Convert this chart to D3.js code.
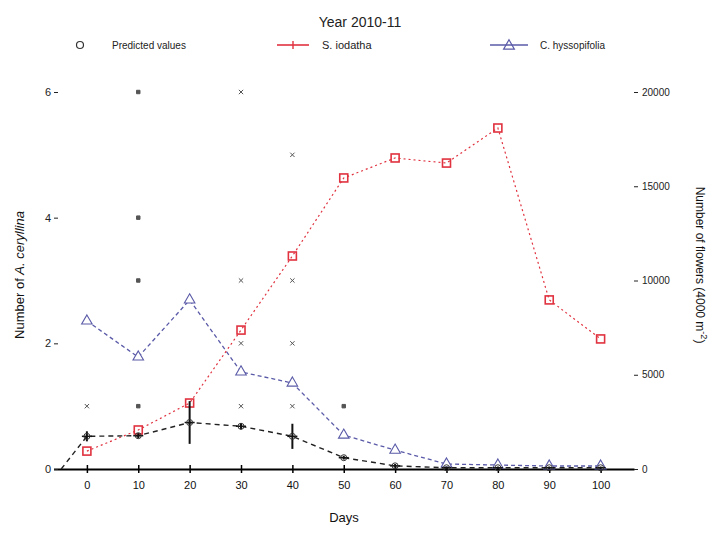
<!DOCTYPE html>
<html>
<head>
<meta charset="utf-8">
<script src="https://cdn.jsdelivr.net/npm/d3@7"></script>
<style>
  html, body { margin: 0; padding: 0; background: #fff; }
  svg { display: block; font-family: "Liberation Sans", Arial, sans-serif; }
</style>
</head>
<body>
<svg id="chart" width="719" height="533"></svg>
<script>
// Sampling days
const days = [0, 10, 20, 30, 40, 50, 60, 70, 80, 90, 100];

// Flowers per 4000 m^2 (right axis)
const iodathaFlowers = [950, 2070, 3500, 7370, 11300, 15440, 16500, 16230, 18090, 8970, 6900];
const hyssopifoliaFlowers = [7850, 5940, 8970, 5150, 4560, 1800, 1000, 265, 210, 160, 160];

// Predicted number of A. ceryllina (left axis), with the curve starting from zero
const predDays = [-5, 0, 10, 20, 30, 40, 50, 60, 70, 80, 90, 100];
const predMean = [0, 0.52, 0.53, 0.74, 0.68, 0.52, 0.18, 0.05, 0.02, 0.02, 0.02, 0.02];
const predErr  = [0, 0.08, 0.04, 0.34, 0.05, 0.2, 0.03, 0.03, 0.02, 0.02, 0.02, 0.02];

// Observed counts of A. ceryllina
const obsDays   = [0, 10, 10, 10, 10, 30, 30, 30, 30, 40, 40, 40, 40, 50];
const obsCounts = [1, 6, 4, 3, 1, 6, 3, 2, 1, 5, 3, 2, 1, 1];

// Axis ticks
const xTicks = [0, 10, 20, 30, 40, 50, 60, 70, 80, 90, 100];
const leftTicks = [0, 2, 4, 6];
const rightTicks = [0, 5000, 10000, 15000, 20000];

const svg = d3.select("#chart");
const red = "#e0323f";
const blue = "#5a5aa8";

const x = d3.scaleLinear().domain([-6.5, 106.5]).range([53.5, 634]);
const yL = d3.scaleLinear().domain([0, 6]).range([469, 92]);
const yR = d3.scaleLinear().domain([0, 20000]).range([469, 92]);

// Title
svg.append("text").attr("x", 360).attr("y", 27).attr("text-anchor", "middle")
  .attr("font-size", 14).attr("fill", "#222").text("Year 2010-11");

// Bottom axis
const xAxis = svg.append("g").attr("transform", "translate(0,469)")
  .call(d3.axisBottom(x).tickValues(xTicks).tickSize(4).tickSizeOuter(0));
xAxis.select(".domain").attr("stroke", "#000").attr("stroke-width", 2);
xAxis.selectAll(".tick line").attr("stroke", "#000").attr("stroke-width", 1.5).attr("y1", -4);
xAxis.selectAll(".tick text").attr("font-size", 11).attr("fill", "#111").attr("dy", "1.2em")
  .attr("font-family", "Liberation Sans, Arial, sans-serif");

// Left axis
const lAxis = svg.append("g").attr("transform", "translate(58,0)")
  .call(d3.axisLeft(yL).tickValues(leftTicks).tickFormat(d3.format("d")).tickSize(4).tickPadding(3));
lAxis.select(".domain").remove();
lAxis.selectAll(".tick line").attr("stroke", "#222");
lAxis.selectAll(".tick text").attr("font-size", 11).attr("fill", "#222")
  .attr("font-family", "Liberation Sans, Arial, sans-serif");

// Right axis
const rAxis = svg.append("g").attr("transform", "translate(634,0)")
  .call(d3.axisRight(yR).tickValues(rightTicks).tickFormat(d3.format("d")).tickSize(4).tickPadding(4));
rAxis.select(".domain").remove();
rAxis.selectAll(".tick line").attr("stroke", "#222");
rAxis.selectAll(".tick text").attr("font-size", 10).attr("fill", "#222")
  .attr("font-family", "Liberation Sans, Arial, sans-serif");

// Axis titles
svg.append("text").attr("x", 344).attr("y", 522).attr("text-anchor", "middle")
  .attr("font-size", 13).attr("fill", "#111").text("Days");

const lt = svg.append("text").attr("transform", "translate(24,275) rotate(-90)")
  .attr("text-anchor", "middle").attr("font-size", 13).attr("fill", "#111");
lt.append("tspan").text("Number of ");
lt.append("tspan").attr("font-style", "italic").text("A. ceryllina");

const rt = svg.append("text").attr("transform", "translate(696,265) rotate(90)")
  .attr("text-anchor", "middle").attr("font-size", 12).attr("fill", "#111");
rt.append("tspan").text("Number of flowers (4000 m");
rt.append("tspan").attr("dy", -5).attr("font-size", 9).text("-2");
rt.append("tspan").attr("dy", 5).text(")");

// Observed counts
const obs = obsDays.map((d, i) => ({ d, c: obsCounts[i] }));
const crossSym = d3.symbol().type(d3.symbolX).size(14);
const sqSym = d3.symbol().type(d3.symbolSquare).size(12);
svg.append("g").selectAll("path").data(obs).join("path")
  .attr("transform", p => `translate(${x(p.d)},${yL(p.c)})`)
  .attr("d", p => (p.d === 10 || p.d === 50) ? sqSym() : crossSym())
  .attr("fill", "#555").attr("stroke", "#555").attr("stroke-width", 1);

// C. hyssopifolia flowers
const hys = days.map((d, i) => ({ d, v: hyssopifoliaFlowers[i] }));
svg.append("path").datum(hys)
  .attr("d", d3.line().x(p => x(p.d)).y(p => yR(p.v)))
  .attr("fill", "none").attr("stroke", blue).attr("stroke-width", 1.3).attr("stroke-dasharray", "4,3");
svg.append("g").selectAll("path").data(hys).join("path")
  .attr("transform", p => `translate(${x(p.d)},${yR(p.v)})`)
  .attr("d", d3.symbol().type(d3.symbolTriangle).size(48)())
  .attr("fill", "#fff").attr("stroke", blue).attr("stroke-width", 1.1);

// S. iodatha flowers
const iod = days.map((d, i) => ({ d, v: iodathaFlowers[i] }));
svg.append("path").datum(iod)
  .attr("d", d3.line().x(p => x(p.d)).y(p => yR(p.v)))
  .attr("fill", "none").attr("stroke", red).attr("stroke-width", 1.2).attr("stroke-dasharray", "2,3");
svg.append("g").selectAll("rect").data(iod).join("rect")
  .attr("x", p => x(p.d) - 4).attr("y", p => yR(p.v) - 4)
  .attr("width", 8).attr("height", 8)
  .attr("fill", "none").attr("stroke", red).attr("stroke-width", 1.6);

// Predicted A. ceryllina with error bars
const pred = predDays.map((d, i) => ({ d, m: predMean[i], e: predErr[i] }));
svg.append("path").datum(pred)
  .attr("d", d3.line().x(p => x(p.d)).y(p => yL(p.m)))
  .attr("fill", "none").attr("stroke", "#222").attr("stroke-width", 1.4).attr("stroke-dasharray", "5,4");
const eb = svg.append("g").selectAll("g").data(pred.filter(p => p.d >= 0)).join("g");
eb.append("line")
  .attr("x1", p => x(p.d)).attr("x2", p => x(p.d))
  .attr("y1", p => yL(p.m + p.e)).attr("y2", p => yL(Math.max(0, p.m - p.e)))
  .attr("stroke", "#111").attr("stroke-width", 2);
eb.append("line")
  .attr("x1", p => x(p.d) - 5).attr("x2", p => x(p.d) + 5)
  .attr("y1", p => yL(p.m)).attr("y2", p => yL(p.m))
  .attr("stroke", "#111").attr("stroke-width", 1.5);
eb.append("circle")
  .attr("cx", p => x(p.d)).attr("cy", p => yL(p.m)).attr("r", 3)
  .attr("fill", "none").attr("stroke", "#333").attr("stroke-width", 1);

// Legend
const lg = svg.append("g").attr("transform", "translate(0,45)");
lg.append("circle").attr("cx", 80).attr("cy", 0).attr("r", 3.5)
  .attr("fill", "none").attr("stroke", "#333").attr("stroke-width", 1.2);
lg.append("text").attr("x", 112).attr("y", 4).attr("font-size", 10).attr("fill", "#222").text("Predicted values");

lg.append("line").attr("x1", 277).attr("x2", 309).attr("y1", 0).attr("y2", 0)
  .attr("stroke", red).attr("stroke-width", 1.6);
lg.append("line").attr("x1", 293).attr("x2", 293).attr("y1", -4).attr("y2", 4)
  .attr("stroke", red).attr("stroke-width", 1.4);
lg.append("text").attr("x", 322).attr("y", 4).attr("font-size", 11).attr("fill", "#222").text("S. iodatha");

lg.append("line").attr("x1", 490).attr("x2", 528).attr("y1", 0).attr("y2", 0)
  .attr("stroke", blue).attr("stroke-width", 1.6);
lg.append("path").attr("transform", "translate(509,1)")
  .attr("d", d3.symbol().type(d3.symbolTriangle).size(50)())
  .attr("fill", "none").attr("stroke", blue).attr("stroke-width", 1.2);
lg.append("text").attr("x", 540).attr("y", 4).attr("font-size", 10).attr("fill", "#222").text("C. hyssopifolia");
</script>
</body>
</html>
